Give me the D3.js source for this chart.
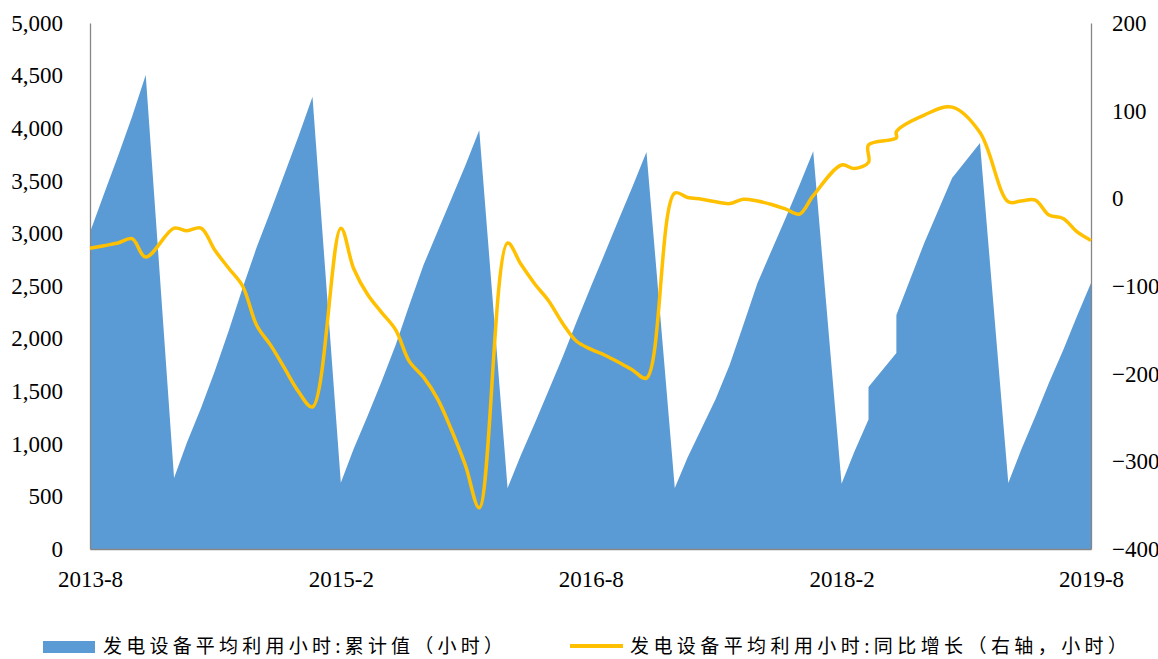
<!DOCTYPE html>
<html>
<head>
<meta charset="utf-8">
<script src="https://cdn.jsdelivr.net/npm/d3@7/dist/d3.min.js"></script>
<style>
    body { margin: 0; background: #fff; }
    svg { display: block; }
</style>
</head>
<body>
<svg id="chart" width="1158" height="659"></svg>
<script>
// data (January is not reported, 2018 has two points on Apr and Jun)
var months = [
    '2013-08','2013-09','2013-10','2013-11','2013-12',
    '2014-02','2014-03','2014-04','2014-05','2014-06','2014-07','2014-08','2014-09','2014-10','2014-11','2014-12',
    '2015-02','2015-03','2015-04','2015-05','2015-06','2015-07','2015-08','2015-09','2015-10','2015-11','2015-12',
    '2016-02','2016-03','2016-04','2016-05','2016-06','2016-07','2016-08','2016-09','2016-10','2016-11','2016-12',
    '2017-02','2017-03','2017-04','2017-05','2017-06','2017-07','2017-08','2017-09','2017-10','2017-11','2017-12',
    '2018-02','2018-03','2018-04','2018-04','2018-06','2018-06','2018-08','2018-10','2018-12',
    '2019-02','2019-03','2019-04','2019-05','2019-06','2019-07','2019-08'
];
var cumHours = [
    3010, 3380, 3730, 4110, 4506,
    675, 1010, 1340, 1690, 2080, 2480, 2870, 3220, 3570, 3930, 4300,
    630, 950, 1270, 1590, 1940, 2320, 2700, 3020, 3330, 3650, 3980,
    580, 890, 1200, 1510, 1830, 2160, 2490, 2813, 3130, 3450, 3774,
    580, 870, 1150, 1420, 1750, 2130, 2529, 2840, 3140, 3460, 3780,
    620, 925, 1230, 1540, 1863, 2224, 2909, 3527, 3859,
    627, 940, 1260, 1580, 1890, 2210, 2529
];
var yoyHours = [
    -57, -54, -51, -46, -67,
    -34, -37, -34, -59, -80, -100, -145, -168, -194, -221, -238,
    -34, -80, -110, -130, -150, -186, -204, -229, -264, -305, -353,
    -51, -75, -98, -117, -143, -163, -172, -179, -187, -196, -205,
    6, 1, -1, -4, -6, -1, -3, -7, -12, -18, 3,
    38, 34, 41, 61, 69, 76, 95, 104, 75,
    -4, -3, -2, -19, -23, -38, -48
];
var xTicks = ['2013-08','2015-02','2016-08','2018-02','2019-08'];
var leftTicks = [0, 500, 1000, 1500, 2000, 2500, 3000, 3500, 4000, 4500, 5000];
var rightTicks = [-400, -300, -200, -100, 0, 100, 200];
var legendNames = ['发电设备平均利用小时:累计值（小时）', '发电设备平均利用小时:同比增长（右轴，小时）'];
// data end

var parseMonth = d3.timeParse('%Y-%m');
var rows = months.map(function(m, i){
    return { date: parseMonth(m), cum: cumHours[i], yoy: yoyHours[i] };
});

var svg = d3.select('#chart');
var plotL = 90, plotR = 1091, plotT = 23, plotB = 549;
var axisColor = '#868686';
var serif = '"Times New Roman", "Liberation Serif", serif';

var x = d3.scaleTime()
    .domain([parseMonth(months[0]), parseMonth(months[months.length - 1])])
    .range([plotL, plotR]);
var yLeft = d3.scaleLinear().domain([0, 5000]).range([plotB, plotT]);
var yRight = d3.scaleLinear().domain([-400, 200]).range([plotB, plotT]);

// cumulative area
var area = d3.area()
    .x(function(d){ return x(d.date); })
    .y0(yLeft(0))
    .y1(function(d){ return yLeft(d.cum); });

svg.append('path')
    .datum(rows)
    .attr('d', area)
    .attr('fill', '#5B9BD5');

// axes
function styleAxis(g){
    g.select('.domain').attr('stroke', axisColor).attr('stroke-width', 1.3);
    g.selectAll('.tick line').remove();
    g.selectAll('.tick text')
        .attr('fill', '#000')
        .style('font-family', serif)
        .style('font-size', '23px');
}

svg.append('g')
    .attr('transform', 'translate(' + plotL + ',0)')
    .call(d3.axisLeft(yLeft).tickValues(leftTicks).tickSize(0).tickPadding(27).tickFormat(d3.format(',')))
    .call(styleAxis);

svg.append('g')
    .attr('transform', 'translate(' + plotR + ',0)')
    .call(d3.axisRight(yRight).tickValues(rightTicks).tickSize(0).tickPadding(21).tickFormat(d3.format('d')))
    .call(styleAxis);

svg.append('g')
    .attr('transform', 'translate(0,' + plotB + ')')
    .call(d3.axisBottom(x).tickValues(xTicks.map(parseMonth)).tickSize(0).tickPadding(22).tickFormat(d3.timeFormat('%Y-%-m')))
    .call(styleAxis);

// yoy line (smoothed like excel)
var line = d3.line()
    .x(function(d){ return x(d.date); })
    .y(function(d){ return yRight(d.yoy); })
    .curve(d3.curveCatmullRom.alpha(0.5));

svg.append('path')
    .datum(rows)
    .attr('d', line)
    .attr('fill', 'none')
    .attr('stroke', '#FFC000')
    .attr('stroke-width', 3.5)
    .attr('stroke-linejoin', 'round');

// legend
var legend = svg.append('g').style('font-family', '"Noto Sans CJK SC", sans-serif').style('font-size', '19px');

legend.append('rect')
    .attr('x', 43).attr('y', 641).attr('width', 52).attr('height', 12)
    .attr('fill', '#5B9BD5');
legend.append('text')
    .attr('x', 103).attr('y', 653)
    .attr('textLength', 400).attr('lengthAdjust', 'spacing')
    .text(legendNames[0]);

legend.append('line')
    .attr('x1', 570).attr('x2', 623).attr('y1', 646).attr('y2', 646)
    .attr('stroke', '#FFC000').attr('stroke-width', 4);
legend.append('text')
    .attr('x', 630).attr('y', 653)
    .attr('textLength', 497).attr('lengthAdjust', 'spacing')
    .text(legendNames[1]);
</script>
</body>
</html>
